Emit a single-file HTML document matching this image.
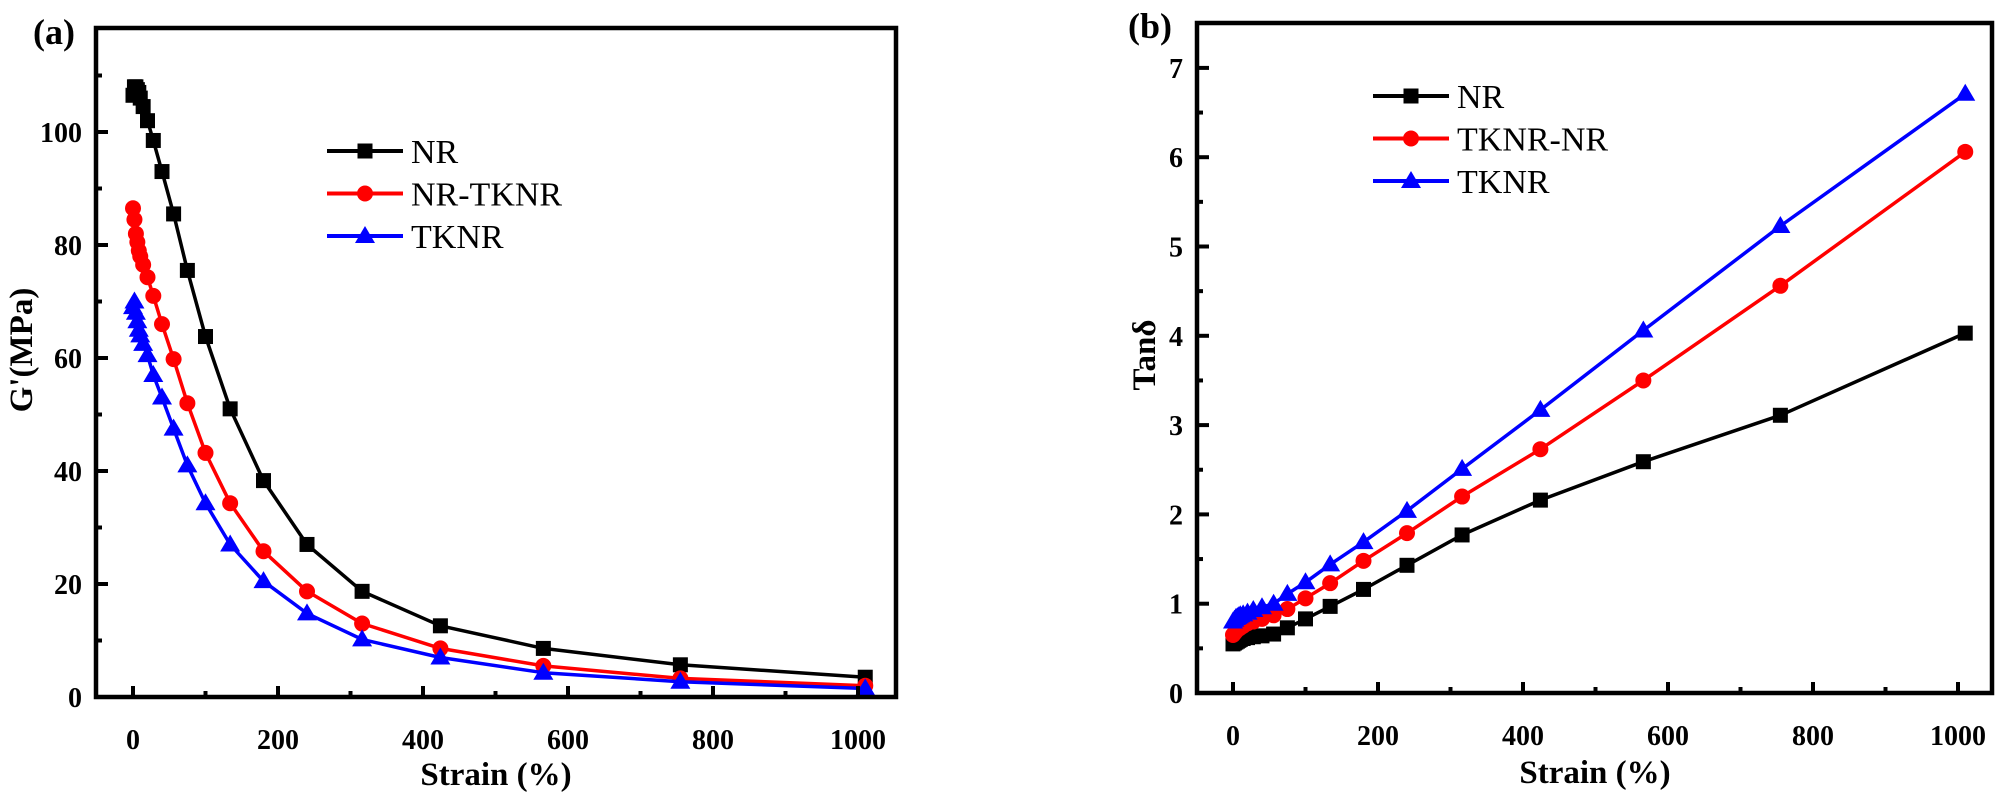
<!DOCTYPE html>
<html><head><meta charset="utf-8"><style>
html,body{margin:0;padding:0;background:#fff;}
svg{display:block;}
text{font-family:"Liberation Serif",serif;}
</style></head><body>
<svg id="s" width="2000" height="801" xmlns="http://www.w3.org/2000/svg"></svg>
<script>
const svg=document.getElementById('s');
let h='';
const S=[0,2,4,6,8,10,14,20,28,40,56,75,100,134,180,240,316,424,566,755,1010];
function panel(o){
  const {L,T,R,B,x0,x1,yv0,yp0,ypu,ymaj,ymin,ymax,series,legend,lx,ly}=o;
  const X=v=>x0+(x1-x0)*v/1000, Y=v=>yp0-ypu*v;
  // series
  for(const s of series){
    let p=S.map((x,i)=>X(x).toFixed(1)+','+Y(s.d[i]).toFixed(1)).join(' ');
    h+=`<polyline points="${p}" fill="none" stroke="${s.c}" stroke-width="3.5" stroke-linejoin="round"/>`;
    S.forEach((x,i)=>{h+=mk(s.m,X(x),Y(s.d[i]),s.c);});
  }
  // frame
  h+=`<rect x="${L}" y="${T}" width="${R-L}" height="${B-T}" fill="none" stroke="#000" stroke-width="4.5"/>`;
  // x ticks
  for(let v=0;v<=1000;v+=100){
    const x=X(v), maj=v%200==0;
    h+=`<line x1="${x}" y1="${B}" x2="${x}" y2="${B-(maj?11:6)}" stroke="#000" stroke-width="4"/>`;
    if(maj) h+=`<text x="${x}" y="${B+52}" font-size="28" font-weight="bold" text-anchor="middle">${v}</text>`;
  }
  for(let v=0;v<=ymax+1e-9;v+=ymin){
    const y=Y(v), maj=Math.abs(v/ymaj-Math.round(v/ymaj))<1e-6;
    h+=`<line x1="${L}" y1="${y}" x2="${L+(maj?12:6)}" y2="${y}" stroke="#000" stroke-width="4"/>`;
    if(maj) h+=`<text x="${L-14}" y="${y+10}" font-size="28" font-weight="bold" text-anchor="end">${Math.round(v)}</text>`;
  }
  legend.forEach((g,i)=>{
    const y=ly+i*42.5;
    h+=`<line x1="${lx}" y1="${y}" x2="${lx+76}" y2="${y}" stroke="${g.c}" stroke-width="4"/>`;
    h+=mk(g.m,lx+38,y,g.c);
    h+=`<text x="${lx+84}" y="${y+12}" font-size="34">${g.t}</text>`;
  });
}
function mk(m,x,y,c){
  if(m=='s') return `<rect x="${x-7.5}" y="${y-7.5}" width="15" height="15" fill="${c}"/>`;
  if(m=='c') return `<circle cx="${x}" cy="${y}" r="8" fill="${c}"/>`;
  return `<polygon points="${x},${y-10} ${x-10},${y+7} ${x+10},${y+7}" fill="${c}"/>`;
}
panel({L:96,T:28,R:896,B:697,x0:133,x1:858,yp0:697,ypu:5.65,ymaj:20,ymin:10,ymax:110,
 series:[
  {c:'#000',m:'s',d:[106.5,108,108,107.5,107,106,104.5,102,98.5,93,85.5,75.5,63.8,51,38.3,27,18.7,12.6,8.6,5.7,3.5]},
  {c:'#ff0000',m:'c',d:[86.5,84.5,82,80.5,79,78,76.5,74.3,71,66,59.8,52,43.2,34.3,25.8,18.7,13,8.6,5.5,3.3,2]},
  {c:'#0000ff',m:'t',d:[69,70,68,66.5,65,64,62.5,60.5,57,53,47.5,41,34.3,27,20.5,14.8,10.2,7,4.3,2.7,1.5]}],
 legend:[{c:'#000',m:'s',t:'NR'},{c:'#ff0000',m:'c',t:'NR-TKNR'},{c:'#0000ff',m:'t',t:'TKNR'}],lx:327,ly:151});
panel({L:1197,T:23,R:1992,B:693,x0:1233,x1:1958,yp0:693,ypu:89.3,ymaj:1,ymin:0.5,ymax:7,
 series:[
  {c:'#000',m:'s',d:[0.55,0.56,0.57,0.58,0.59,0.6,0.61,0.62,0.63,0.64,0.66,0.73,0.83,0.97,1.16,1.43,1.77,2.16,2.59,3.11,4.03]},
  {c:'#ff0000',m:'c',d:[0.65,0.67,0.69,0.71,0.72,0.73,0.75,0.78,0.8,0.83,0.87,0.94,1.06,1.23,1.48,1.79,2.2,2.73,3.5,4.56,6.06]},
  {c:'#0000ff',m:'t',d:[0.8,0.82,0.84,0.85,0.86,0.87,0.88,0.9,0.93,0.96,1.0,1.11,1.24,1.44,1.69,2.04,2.51,3.17,4.06,5.23,6.71]}],
 legend:[{c:'#000',m:'s',t:'NR'},{c:'#ff0000',m:'c',t:'TKNR-NR'},{c:'#0000ff',m:'t',t:'TKNR'}],lx:1373,ly:96});
h+=`<text x="33" y="44" font-size="36" font-weight="bold">(a)</text>`;
h+=`<text x="1128" y="38" font-size="36" font-weight="bold">(b)</text>`;
h+=`<text x="496" y="785" font-size="33" font-weight="bold" text-anchor="middle">Strain (%)</text>`;
h+=`<text x="1595" y="783" font-size="33" font-weight="bold" text-anchor="middle">Strain (%)</text>`;
h+=`<text transform="translate(32,350) rotate(-90)" font-size="33" font-weight="bold" text-anchor="middle">G'(MPa)</text>`;
h+=`<text transform="translate(1155,355) rotate(-90)" font-size="33" font-weight="bold" text-anchor="middle">Tanδ</text>`;
svg.innerHTML=h;
</script>
</body></html>
